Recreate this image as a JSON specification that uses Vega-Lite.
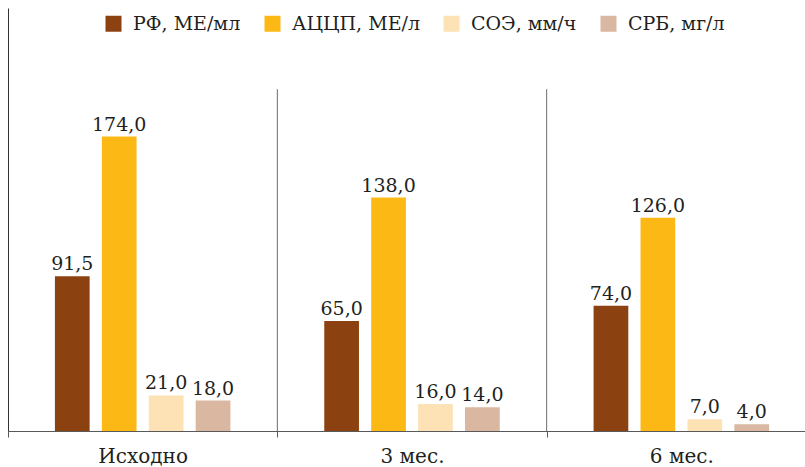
{
  "$schema": "https://vega.github.io/schema/vega-lite/v6.json",
  "width": 808,
  "height": 423,
  "autosize": {"type": "none"},
  "padding": {"left": 8, "top": 8, "right": 0, "bottom": 36},
  "background": "#ffffff",
  "config": {
    "locale": {
      "number": {"decimal": ",", "thousands": " ", "grouping": [3], "currency": ["", " ₽"]}
    },
    "view": {"stroke": null},
    "font": "DejaVu Serif"
  },
  "data": {
    "values": [
      {"period": "Исходно", "series": "РФ, МЕ/мл", "value": 91.5},
      {"period": "Исходно", "series": "АЦЦП, МЕ/л", "value": 174.0},
      {"period": "Исходно", "series": "СОЭ, мм/ч", "value": 21.0},
      {"period": "Исходно", "series": "СРБ, мг/л", "value": 18.0},
      {"period": "3 мес.", "series": "РФ, МЕ/мл", "value": 65.0},
      {"period": "3 мес.", "series": "АЦЦП, МЕ/л", "value": 138.0},
      {"period": "3 мес.", "series": "СОЭ, мм/ч", "value": 16.0},
      {"period": "3 мес.", "series": "СРБ, мг/л", "value": 14.0},
      {"period": "6 мес.", "series": "РФ, МЕ/мл", "value": 74.0},
      {"period": "6 мес.", "series": "АЦЦП, МЕ/л", "value": 126.0},
      {"period": "6 мес.", "series": "СОЭ, мм/ч", "value": 7.0},
      {"period": "6 мес.", "series": "СРБ, мг/л", "value": 4.0}
    ]
  },
  "encoding": {
    "x": {
      "field": "period",
      "type": "nominal",
      "sort": ["Исходно", "3 мес.", "6 мес."],
      "scale": {"paddingInner": 0, "paddingOuter": 0},
      "axis": {
        "title": null,
        "orient": "bottom",
        "domainColor": "#595959",
        "domainWidth": 1,
        "tickColor": "#595959",
        "tickBand": "extent",
        "tickSize": 6,
        "labelAngle": 0,
        "labelFont": "DejaVu Serif",
        "labelFontSize": 20,
        "labelColor": "#231F20",
        "labelBaseline": "alphabetic",
        "labelPadding": 25
      }
    },
    "xOffset": {
      "field": "series",
      "type": "nominal",
      "sort": ["РФ, МЕ/мл", "АЦЦП, МЕ/л", "СОЭ, мм/ч", "СРБ, мг/л"],
      "scale": {"paddingInner": 0.26, "paddingOuter": 1.06}
    },
    "y": {
      "field": "value",
      "type": "quantitative",
      "scale": {"domain": [0, 250], "nice": false},
      "axis": {
        "title": null,
        "labels": false,
        "ticks": false,
        "grid": false,
        "domainColor": "#333333",
        "domainWidth": 1
      }
    }
  },
  "layer": [
    {
      "transform": [{"filter": "datum.series === 'РФ, МЕ/мл' && datum.period !== 'Исходно'"}],
      "mark": {"type": "rule", "color": "#6b6b6b", "strokeWidth": 1},
      "encoding": {
        "x": {"field": "period", "type": "nominal", "bandPosition": 0, "sort": ["Исходно", "3 мес.", "6 мес."]},
        "xOffset": null,
        "y": {"datum": 0},
        "y2": {"datum": 202}
      }
    },
    {
      "mark": {"type": "bar"},
      "encoding": {
        "color": {
          "field": "series",
          "type": "nominal",
          "sort": ["РФ, МЕ/мл", "АЦЦП, МЕ/л", "СОЭ, мм/ч", "СРБ, мг/л"],
          "scale": {"range": ["#8C4210", "#FCB916", "#FDE2B5", "#D9B7A1"]},
          "legend": {
            "title": null,
            "orient": "none",
            "direction": "horizontal",
            "legendX": 96,
            "legendY": 6,
            "padding": 0,
            "symbolType": "square",
            "symbolSize": 256,
            "symbolStrokeWidth": 0,
            "labelFont": "DejaVu Serif",
            "labelFontSize": 19,
            "labelColor": "#231F20",
            "labelOffset": 10,
            "columnPadding": 22,
            "labelLimit": 300
          }
        }
      }
    },
    {
      "mark": {"type": "text", "baseline": "alphabetic", "dy": -6, "fontSize": 19, "font": "DejaVu Serif", "color": "#231F20"},
      "encoding": {
        "text": {"field": "value", "type": "quantitative", "format": ".1f"}
      }
    }
  ]
}
